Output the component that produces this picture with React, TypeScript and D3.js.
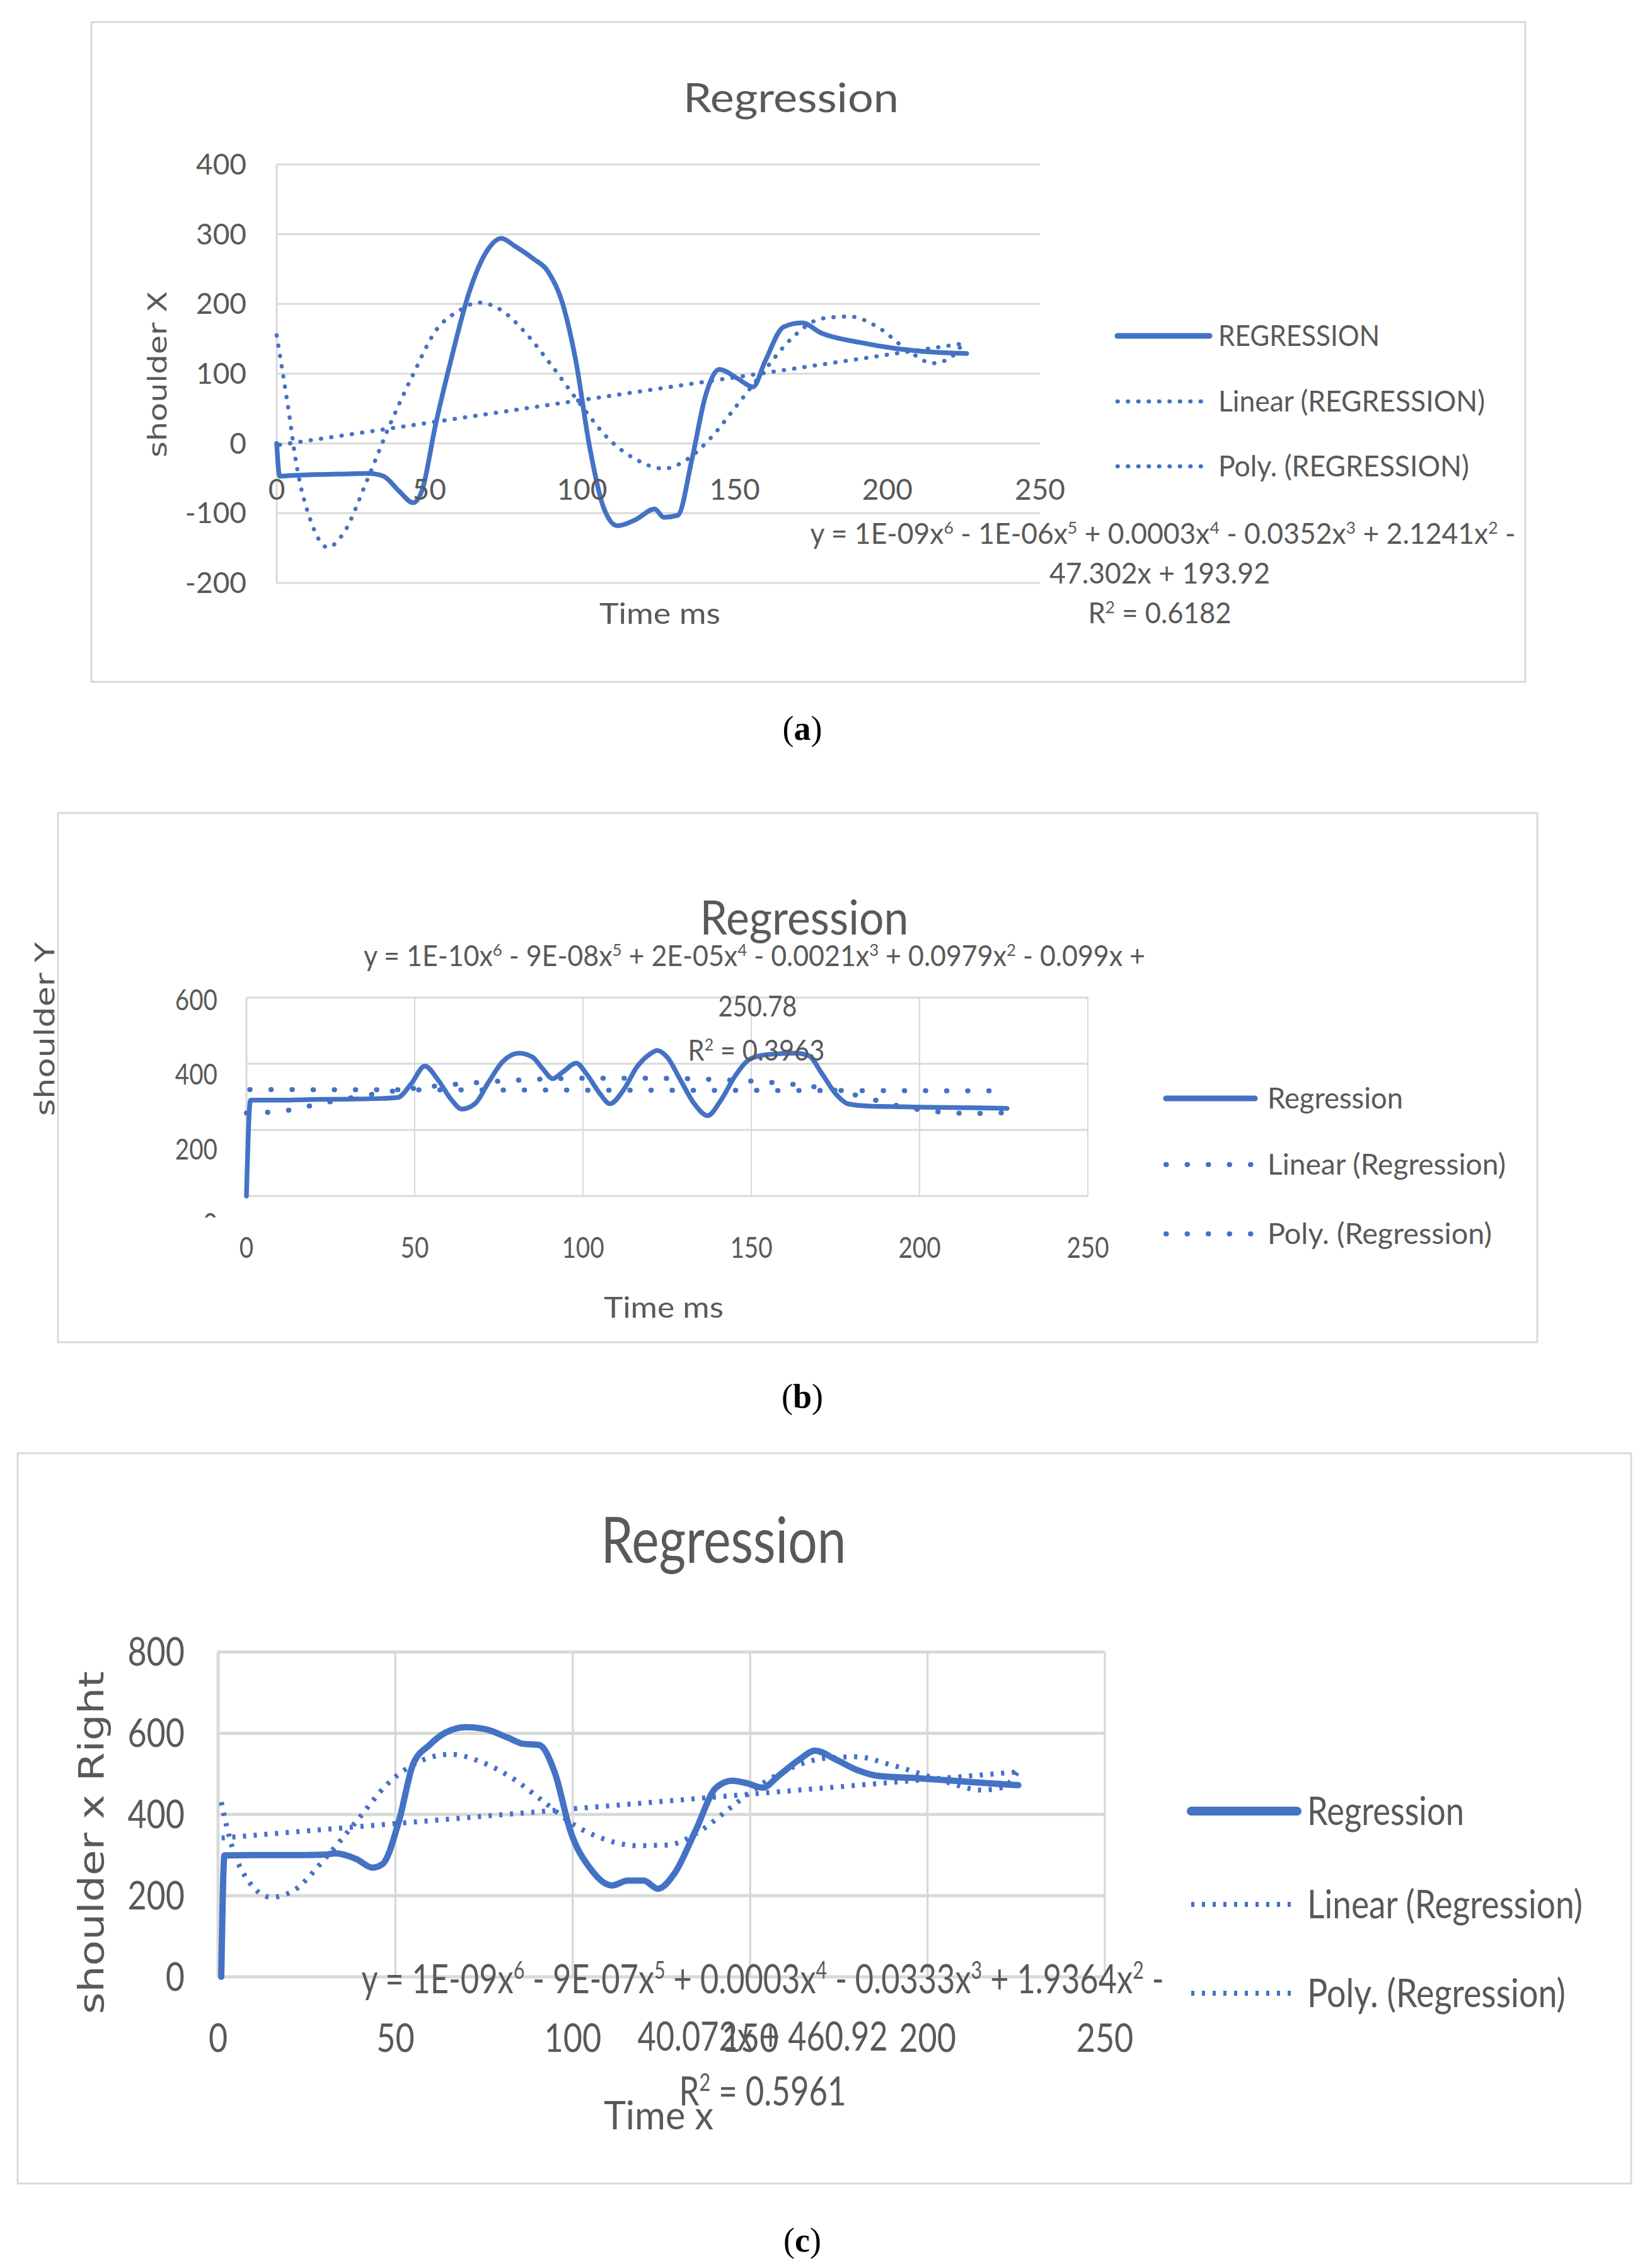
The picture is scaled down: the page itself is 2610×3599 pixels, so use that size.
import React from "react";
import * as d3 from "d3";

// ---------- panel (a) : shoulder X ----------
const aSolidT = [0, 1, 5, 10, 20, 30, 35, 40, 44.7, 47.7, 52, 57, 63, 69, 73.6, 78, 84, 88.8, 93.4, 98, 102.5, 107, 111.6, 117.7, 123.8, 126.8, 131.4, 136, 140.5, 145, 151, 156, 160, 166, 172, 178.5, 190.7, 203, 215, 226];
const aSolidV = [0, -47, -46, -45, -44, -43, -47, -68, -85, -66, 26, 118, 216, 277, 294, 283, 265, 247, 204, 118, -5, -91, -118, -109, -94, -106, -103, -23, 69, 106, 93, 81, 118, 167, 173, 158, 145, 136, 131, 129];
const aPolyT = [0, 3.6, 6.7, 11, 16.7, 22, 29.5, 37, 44.7, 52, 60, 66, 73.6, 81, 90, 99.5, 108.6, 117.7, 126.8, 134.4, 142, 151, 160, 169, 178.5, 187.6, 196.8, 206, 215, 221, 225];
const aPolyV = [155, 56, -36, -109, -149, -128, -54, 26, 99, 161, 191, 202, 191, 161, 112, 56, 7, -23, -36, -23, 7, 56, 106, 152, 179, 182, 167, 136, 115, 124, 145];
const aLinT = [1, 226];
const aLinV = [-2, 144];
const aYTicks = [-200, -100, 0, 100, 200, 300, 400];
const aXTicks = [0, 50, 100, 150, 200, 250];
const aLegend = ["REGRESSION", "Linear (REGRESSION)", "Poly. (REGRESSION)"];
const aEquation = ["y = 1E-09x^6 - 1E-06x^5 + 0.0003x^4 - 0.0352x^3 + 2.1241x^2 -", "47.302x + 193.92", "R^2 = 0.6182"];

// ---------- panel (b) : shoulder Y ----------
const bSolidT = [0, 1.2, 10, 20, 30, 40, 45, 49, 53, 57, 61, 64, 68, 72, 76, 81, 85, 88, 91, 94, 98, 101, 105, 108, 112, 116, 120, 122, 125, 129, 133, 137, 141, 145, 149, 153, 158, 163, 167, 171, 175, 179, 185, 195, 205, 215, 226];
const bSolidV = [0, 290, 290, 292, 293, 295, 298, 340, 393, 350, 290, 263, 280, 345, 405, 432, 420, 385, 355, 375, 402, 370, 310, 279, 320, 390, 430, 440, 420, 350, 280, 243, 290, 360, 410, 425, 430, 432, 425, 370, 310, 278, 272, 270, 268, 267, 265];
const bPolyT = [0, 10, 20, 30, 40, 50, 60, 80, 100, 120, 140, 160, 175, 185, 195, 205, 215, 226];
const bPolyV = [251, 256, 275, 295, 312, 326, 336, 350, 356, 356, 352, 340, 320, 295, 270, 255, 250, 252];
const bLinT = [1, 226];
const bLinV = [322, 318];
const bYTicks = [0, 200, 400, 600];
const bXTicks = [0, 50, 100, 150, 200, 250];
const bLegend = ["Regression", "Linear (Regression)", "Poly. (Regression)"];
const bEquation = ["y = 1E-10x^6 - 9E-08x^5 + 2E-05x^4 - 0.0021x^3 + 0.0979x^2 - 0.099x +", "250.78", "R^2 = 0.3963"];

// ---------- panel (c) : shoulder x Right ----------
const cSolidT = [0.9, 1.8, 10, 20, 30, 33, 39, 43.5, 46.4, 51, 55, 59.6, 64, 70, 75.8, 81.7, 86, 90.5, 95, 99.3, 105, 111, 115.5, 120, 124, 128.7, 134.6, 140.4, 145, 149, 153.6, 158, 164, 168.3, 174, 180, 186, 197.7, 212, 225.6];
const cSolidV = [0, 299, 300, 300, 301, 304, 290, 269, 278, 384, 524, 571, 601, 615, 609, 589, 574, 571, 501, 360, 266, 225, 237, 237, 217, 255, 360, 466, 483, 477, 466, 495, 536, 557, 536, 510, 495, 489, 480, 472];
const cPolyT = [0.9, 3.8, 8, 15, 21.4, 30, 39, 48, 56.7, 65.5, 74, 83, 92, 100.8, 109.6, 118.4, 127, 136, 144.8, 153.7, 162.5, 171, 180, 189, 197.7, 206.5, 215, 221, 225.6];
const cPolyV = [430, 325, 243, 196, 213, 290, 383, 477, 530, 548, 530, 489, 430, 372, 337, 323, 325, 360, 419, 477, 518, 538, 542, 524, 501, 477, 460, 466, 507];
const cLinT = [1, 226];
const cLinV = [342, 505];
const cYTicks = [0, 200, 400, 600, 800];
const cXTicks = [0, 50, 100, 150, 200, 250];
const cLegend = ["Regression", "Linear (Regression)", "Poly. (Regression)"];
const cEquation = ["y = 1E-09x^6 - 9E-07x^5 + 0.0003x^4 - 0.0333x^3 + 1.9364x^2 -", "40.072x + 460.92", "R^2 = 0.5961"];

const FONT = "Lato, 'Open Sans', sans-serif";
const AXIS_FONT = "'DejaVu Sans', Verdana, sans-serif";
const GRAY = "#595959";
const BLUE = "#4472C4";
const GRID = "#d9d9d9";

const zip = (t, v) => t.map((d, i) => [d, v[i]]);

// one text run, with ^n turned into a superscript
const Sup = ({ s }) => {
  const parts = s.split(/\^(\d)/);
  return (
    <>
      {parts.map((p, i) =>
        i % 2 ? (
          <tspan key={i} baselineShift="super" fontSize="60%">{p}</tspan>
        ) : (
          <tspan key={i}>{p}</tspan>
        )
      )}
    </>
  );
};

const Label = ({ x, y, size, len = undefined, anchor = "middle", rotate = 0, sx = 1, family = FONT, fill = GRAY, children }) => (
  <text
    transform={`translate(${x},${y}) rotate(${rotate}) scale(${sx},1)`}
    fontSize={size}
    fontFamily={family}
    fill={fill}
    textAnchor={anchor}
    dy="0.35em"
    textLength={len}
    lengthAdjust={len ? "spacingAndGlyphs" : undefined}
  >
    {children}
  </text>
);

const Panel = ({ id, data, L }) => {
  const x = d3.scaleLinear().domain([0, 250]).range(L.x);
  const y = d3.scaleLinear().domain(L.yDomain).range(L.y);
  const yLab = L.yLabelRange ? d3.scaleLinear().domain([L.yDomain[1], L.yDomain[0]]).range(L.yLabelRange) : y;
  const curve = d3.line().x((d) => x(d[0])).y((d) => y(d[1])).curve(d3.curveMonotoneX);
  const straight = d3.line().x((d) => x(d[0])).y((d) => y(d[1]));
  const [f0x, f0y, f1x, f1y] = L.frame;
  const top = y(L.yDomain[1]);
  const bottom = y(L.yDomain[0]);
  const dotStyle = { fill: "none", stroke: BLUE, strokeWidth: L.dotW, strokeDasharray: L.dash, strokeLinecap: L.cap };

  return (
    <g>
      <rect x={f0x} y={f0y} width={f1x - f0x} height={f1y - f0y} fill="#fff" stroke={GRID} strokeWidth={3} />
      {/* gridlines */}
      {data.yTicks.map((t) => (
        <line key={"h" + t} x1={x(0)} x2={x(250)} y1={y(t)} y2={y(t)} stroke={GRID} strokeWidth={L.gridW} />
      ))}
      {L.vGrid &&
        data.xTicks.slice(1).map((t) => (
          <line key={"v" + t} x1={x(t)} x2={x(t)} y1={top} y2={bottom} stroke={GRID} strokeWidth={L.gridW * 0.7} />
        ))}
      <line x1={x(0)} x2={x(0)} y1={top} y2={bottom} stroke={GRID} strokeWidth={L.gridW} />

      {/* series */}
      <path d={straight(zip(data.linT, data.linV))} style={dotStyle} />
      <path d={curve(zip(data.polyT, data.polyV))} style={dotStyle} />
      <path d={curve(zip(data.solidT, data.solidV))} fill="none" stroke={BLUE} strokeWidth={L.solidW} strokeLinejoin="round" strokeLinecap="round" />

      {/* tick labels */}
      <clipPath id={"clip" + id}>
        <rect x={0} y={0} width={2610} height={L.clipY || 3599} />
      </clipPath>
      <g clipPath={`url(#clip${id})`}>
        {data.yTicks.map((t) => (
          <Label key={"yl" + t} x={L.yTickX} y={yLab(t)} size={L.tickSize} sx={L.tickSx} anchor="end">
            {t}
          </Label>
        ))}
      </g>
      {data.xTicks.map((t) => (
        <Label key={"xl" + t} x={x(t)} y={L.xTickY} size={L.tickSize} sx={L.tickSx}>
          {t}
        </Label>
      ))}

      {/* titles */}
      <Label x={L.title.x} y={L.title.y} size={L.title.size} len={L.title.len}>Regression</Label>
      <Label x={L.yTitle.x} y={L.yTitle.y} size={L.yTitle.size} len={L.yTitle.len} rotate={-90} family={AXIS_FONT}>
        {data.yTitle}
      </Label>
      <Label x={L.xTitle.x} y={L.xTitle.y} size={L.xTitle.size} len={L.xTitle.len}>{data.xTitle}</Label>

      {/* legend */}
      {data.legend.map((name, i) => (
        <g key={name}>
          {i === 0 ? (
            <line x1={L.legend.x0} x2={L.legend.x1} y1={L.legend.ys[i]} y2={L.legend.ys[i]} stroke={BLUE} strokeWidth={L.solidLegendW} strokeLinecap="round" />
          ) : (
            <line x1={L.legend.x0} x2={L.legend.x1} y1={L.legend.ys[i]} y2={L.legend.ys[i]} style={dotStyle} />
          )}
          <Label x={L.legend.tx} y={L.legend.ys[i]} size={L.legend.size} len={L.legend.lens[i]} anchor="start">
            {name}
          </Label>
        </g>
      ))}

      {/* trendline equation */}
      {data.equation.map((s, i) => (
        <Label key={i} x={L.eq.xs[i]} y={L.eq.ys[i]} size={L.eq.size} len={L.eq.lens[i]}>
          <Sup s={s} />
        </Label>
      ))}

      {/* caption */}
      <text x={L.caption[0]} y={L.caption[1]} dy="0.35em" textAnchor="middle" fontFamily="'Liberation Serif', serif" fontSize={54} fill="#000">
        (<tspan fontWeight="bold">{id}</tspan>)
      </text>
    </g>
  );
};

const layoutA = {
  frame: [145, 35, 2420, 1082],
  x: [439, 1650], y: [925, 261], yDomain: [-200, 400],
  vGrid: false, gridW: 3,
  tickSize: 46, tickSx: 1, yTickX: 391, xTickY: 777,
  title: { x: 1255, y: 156, size: 64, len: 342 },
  yTitle: { x: 250, y: 594, size: 40, len: 264 },
  xTitle: { x: 1047, y: 974, size: 46, len: 192 },
  legend: { x0: 1773, x1: 1919, tx: 1933, ys: [533, 637, 740], size: 46, lens: [256, 423, 398] },
  eq: { xs: [1845, 1840, 1840], ys: [847, 910, 973], size: 46, lens: [1119, 350, 227] },
  solidW: 7.5, solidLegendW: 9, dotW: 6.5, dash: "0.5 16", cap: "round",
  caption: [1273, 1155],
};

const layoutB = {
  frame: [92, 1290, 2439, 2130],
  x: [391, 1726], y: [1898, 1583], yDomain: [0, 600],
  vGrid: true, gridW: 3,
  tickSize: 46, tickSx: 0.84, yTickX: 345, yLabelRange: [1587, 1942], clipY: 1932, xTickY: 1980,
  title: { x: 1276, y: 1456, size: 76, len: 331 },
  yTitle: { x: 71, y: 1633, size: 42, len: 276 },
  xTitle: { x: 1053, y: 2075, size: 46, len: 190 },
  legend: { x0: 1850, x1: 1991, tx: 2011, ys: [1743, 1848, 1958], size: 46, lens: [215, 378, 356] },
  eq: { xs: [1197, 1202, 1200], ys: [1517, 1597, 1667], size: 46, lens: [1240, 125, 217] },
  solidW: 7.5, solidLegendW: 9, dotW: 8, dash: "0.5 33", cap: "round",
  caption: [1273, 2215],
};

const layoutC = {
  frame: [28, 2306, 2588, 3465],
  x: [346, 1753], y: [3137, 2621.5], yDomain: [0, 800],
  vGrid: true, gridW: 5,
  tickSize: 62, tickSx: 0.84, yTickX: 293, xTickY: 3234,
  title: { x: 1148, y: 2445, size: 100, len: 389 },
  yTitle: { x: 144, y: 2924, size: 56, len: 544 },
  xTitle: { x: 1045, y: 3357, size: 62, len: 174 },
  legend: { x0: 1890, x1: 2058, tx: 2074, ys: [2874, 3022, 3163], size: 62, lens: [249, 437, 410] },
  eq: { xs: [1210, 1210, 1210], ys: [3141, 3232, 3319], size: 64, lens: [1273, 397, 265] },
  solidW: 10, solidLegendW: 14, dotW: 8, dash: "5 12", cap: "butt",
  caption: [1273, 3554],
};

const dataA = {
  solidT: aSolidT, solidV: aSolidV, polyT: aPolyT, polyV: aPolyV, linT: aLinT, linV: aLinV,
  yTicks: aYTicks, xTicks: aXTicks, legend: aLegend, equation: aEquation,
  yTitle: "shoulder X", xTitle: "Time ms",
};
const dataB = {
  solidT: bSolidT, solidV: bSolidV, polyT: bPolyT, polyV: bPolyV, linT: bLinT, linV: bLinV,
  yTicks: bYTicks, xTicks: bXTicks, legend: bLegend, equation: bEquation,
  yTitle: "shoulder Y", xTitle: "Time ms",
};
const dataC = {
  solidT: cSolidT, solidV: cSolidV, polyT: cPolyT, polyV: cPolyV, linT: cLinT, linV: cLinV,
  yTicks: cYTicks, xTicks: cXTicks, legend: cLegend, equation: cEquation,
  yTitle: "shoulder x Right", xTitle: "Time x",
};

export default function App() {
  return (
    <div>
      <style>{"body{margin:0}"}</style>
      <svg width={2610} height={3599} style={{ display: "block", background: "#fff" }}>
        <rect width={2610} height={3599} fill="#fff" />
        <Panel id="a" data={dataA} L={layoutA} />
        <Panel id="b" data={dataB} L={layoutB} />
        <Panel id="c" data={dataC} L={layoutC} />
      </svg>
    </div>
  );
}
